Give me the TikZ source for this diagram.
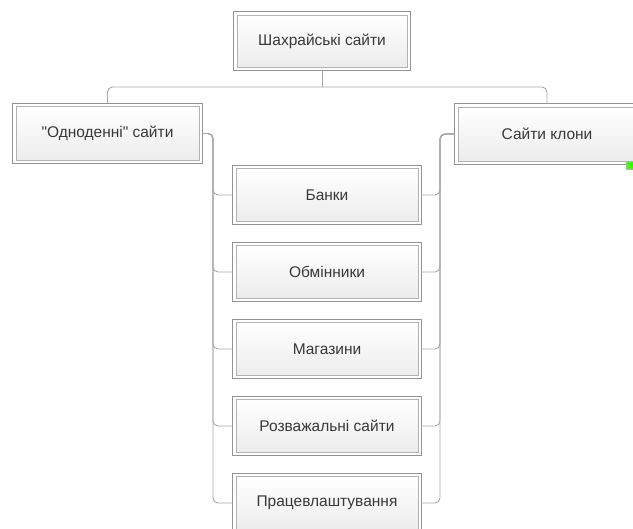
\documentclass[tikz,border=0pt]{standalone}
\usepackage{fontspec}
\newfontfamily\libsans{Liberation Sans}
\begin{document}
\begin{tikzpicture}[x=1pt,y=-1pt,
  box/.style={draw=gray!60, line width=0.8pt,
    top color=white, bottom color=gray!15, minimum width=182pt, minimum height=53pt,
    inner sep=0pt, text=black!78, font=\libsans\fontsize{15.5}{18}\selectfont},
  outerbox/.style={draw=gray!85, line width=0.8pt},
  conn/.style={draw=gray!70, line width=0.9pt, rounded corners=5pt}]
\useasboundingbox (0,0) rectangle (633,529);
\clip (0,0) rectangle (633,529);
\node[box, minimum width=170pt, minimum height=52pt] (top) at (322,41) {Шахрайські сайти};
\node[box, minimum width=183pt, minimum height=54pt] (left) at (107.5,133.5) {"Одноденні" сайти};
\node[box, minimum width=178pt, minimum height=54pt] (right) at (547,134) {Сайти клони};
\node[box] (bank) at (327,195) {Банки};
\node[box] (exch) at (327,272) {Обмінники};
\node[box] (shop) at (327,349) {Магазини};
\node[box] (fun) at (327,426) {Розважальні сайти};
\node[box] (job) at (327,503) {Працевлаштування};
\foreach \n in {top,left,right,bank,exch,shop,fun,job}{
  \draw[outerbox] ([shift={(-3pt,3pt)}]\n.north west) rectangle ([shift={(3pt,-3pt)}]\n.south east);
}
\coordinate (hub) at (322,87);
\coordinate (lbus) at (213,0);
\coordinate (rbus) at (440,0);
\draw[conn] ([yshift=-3pt]top.south) -- (hub);
\draw[conn] ([yshift=3pt]left.north) |- (hub) -| ([yshift=3pt]right.north);
\foreach \c in {bank,exch,shop,fun,job}{
  \draw[conn] ([xshift=3pt]left.east) -| (lbus |- \c.west) -- ([xshift=-3pt]\c.west);
  \draw[conn] ([xshift=-3pt]right.west) -| (rbus |- \c.east) -- ([xshift=3pt]\c.east);
}
\node[draw=gray!60, fill=green!70!lime, line width=0.8pt, minimum width=7pt, minimum height=8pt, inner sep=0pt] (handle) at (630,165.5) {};
\end{tikzpicture}
\end{document}
